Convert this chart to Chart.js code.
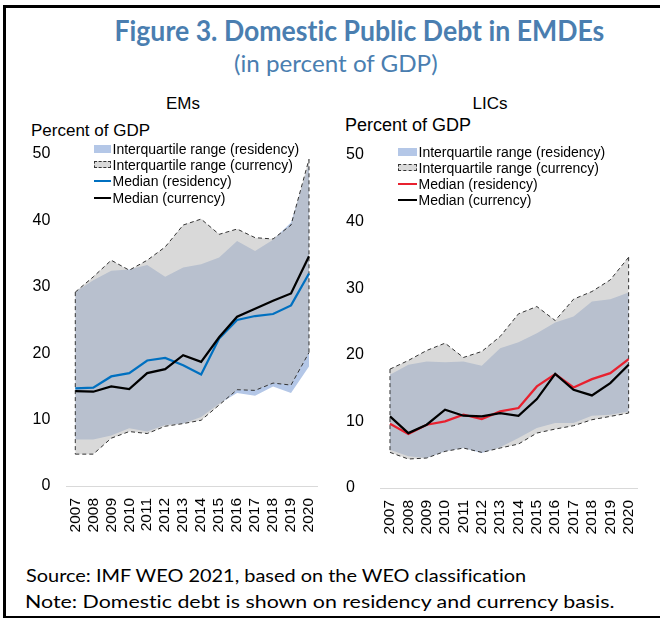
<!DOCTYPE html>
<html>
<head>
<meta charset="utf-8">
<script src="https://cdn.jsdelivr.net/npm/chart.js@4.4.1/dist/chart.umd.min.js"></script>
<style>
  html, body { margin:0; padding:0; background:#fff; }
  #wrap { position:relative; width:660px; height:618px; overflow:hidden; background:#fff; }
  #frame { position:absolute; left:3px; top:5px; width:700px; height:613px; box-sizing:border-box;
           border-left:3px solid #000; border-top:3px solid #000; border-bottom:2px solid #000; }
  .t { position:absolute; white-space:nowrap; line-height:1; font-variant-ligatures:none; }
  .ttl { font-family: Lato, "Open Sans", sans-serif; color:#4a7eb0; }
  .ax { font-family: "Liberation Sans", Arial, sans-serif; color:#000; }
  .foot { font-family: Lato, "Open Sans", sans-serif; color:#000; }
  canvas { position:absolute; }
  .leg { position:absolute; font-family:"Liberation Sans", Arial, sans-serif; font-size:14px; color:#000; }
  .row { position:absolute; left:0; height:16px; white-space:nowrap; }
  .row span.txt { position:absolute; top:0; line-height:16px; }
  .sw { position:absolute; box-sizing:border-box; }
</style>
</head>
<body>
<div id="wrap">
  <div id="frame"></div>
  <div class="t ttl" id="title" style="font-weight:700;font-size:28px;" data-cx="359.5" data-cy="30" data-w="490">Figure 3. Domestic Public Debt in EMDEs</div>
  <div class="t ttl" id="subtitle" style="font-size:23px;" data-cx="336" data-cy="63" data-w="204">(in percent of GDP)</div>
  <div class="t ax" style="font-size:17px;" data-cx="183" data-cy="103">EMs</div>
  <div class="t ax" style="font-size:17px;" data-cx="490" data-cy="103">LICs</div>
  <div class="t ax" style="font-size:17px;" data-lx="31" data-cy="130">Percent of GDP</div>
  <div class="t ax" style="font-size:18px;" data-lx="345" data-cy="125">Percent of GDP</div>
  <canvas id="c1" width="320" height="440" style="left:20px;top:120px;width:320px;height:440px;"></canvas>
  <canvas id="c2" width="320" height="440" style="left:340px;top:120px;width:320px;height:440px;"></canvas>
  <div class="leg" id="leg1"></div>
  <div class="leg" id="leg2"></div>
  <div class="t foot" style="font-size:18px;" data-lx="26" data-cy="575" data-w="500">Source: IMF WEO 2021, based on the WEO classification</div>
  <div class="t foot" style="font-size:18px;" data-lx="25" data-cy="601" data-w="590">Note: Domestic debt is shown on residency and currency basis.</div>
</div>
<script>
// ---------------- DATA ----------------
const years = ['2007','2008','2009','2010','2011','2012','2013','2014','2015','2016','2017','2018','2019','2020'];

// EMs
const emResUpper  = [29.2, 31.0, 32.4, 32.6, 33.3, 31.5, 32.9, 33.4, 34.4, 36.9, 35.4, 37.1, 39.7, 48.5];
const emResLower  = [7.0, 7.0, 7.6, 8.7, 8.2, 9.2, 9.4, 10.4, 12.4, 14.0, 13.6, 15.0, 14.0, 18.0];
const emCurUpper  = [29.2, 31.5, 34.0, 32.5, 34.0, 36.0, 39.3, 40.2, 37.9, 38.7, 37.4, 37.2, 39.3, 49.2];
const emCurLower  = [4.8, 4.8, 7.2, 8.2, 7.9, 9.0, 9.4, 9.9, 12.2, 14.5, 14.4, 15.5, 15.2, 20.1];
const emResMedian = [14.7, 14.8, 16.5, 17.0, 18.9, 19.3, 18.2, 16.8, 22.2, 25.0, 25.6, 25.9, 27.2, 32.0];
const emCurMedian = [14.3, 14.2, 15.0, 14.6, 17.0, 17.6, 19.7, 18.7, 22.4, 25.5, 26.7, 27.9, 29.0, 34.6];

// LICs
const licResUpper  = [17.0, 18.5, 19.0, 18.9, 19.0, 18.35, 21.0, 21.9, 23.25, 24.85, 25.75, 28.0, 28.35, 29.35];
const licResLower  = [5.75, 4.75, 4.5, 5.5, 6.0, 5.25, 6.1, 7.5, 9.0, 9.75, 9.75, 10.85, 11.0, 11.5];
const licCurUpper  = [17.85, 19.15, 20.65, 21.75, 19.6, 20.5, 22.75, 26.15, 27.25, 25.15, 28.35, 29.5, 31.25, 34.65];
const licCurLower  = [5.35, 4.35, 4.5, 5.5, 6.0, 5.35, 6.0, 6.6, 8.25, 8.85, 9.35, 10.25, 10.75, 11.25];
const licResMedian = [9.65, 8.1, 9.5, 10.0, 11.0, 10.35, 11.5, 12.0, 15.25, 17.1, 15.1, 16.35, 17.25, 19.35];
const licCurMedian = [10.75, 8.25, 9.5, 11.75, 10.85, 10.75, 11.25, 10.85, 13.35, 17.15, 14.75, 13.9, 15.75, 18.5];

const yTicks = [0, 10, 20, 30, 40, 50];
const legendLabels = ['Interquartile range (residency)', 'Interquartile range (currency)', 'Median (residency)', 'Median (currency)'];

// ---------------- STYLE ----------------
const FONT = '"Liberation Sans", Arial, sans-serif';
Chart.defaults.font.family = FONT;
Chart.defaults.color = '#000';

const BLUE_FILL = '#b4c7e7';
const GREY_FILL = 'rgba(187,187,187,0.56)';
const DASH_COL = '#333333';

const edgePlugin = {
  id: 'edges',
  beforeDatasetsDraw(chart) {
    const up = chart.getDatasetMeta(2).data, lo = chart.getDatasetMeta(3).data;
    const ctx = chart.ctx;
    ctx.save();
    ctx.setLineDash([4, 3]);
    ctx.strokeStyle = DASH_COL;
    ctx.lineWidth = 1;
    [0, up.length - 1].forEach(i => {
      ctx.beginPath();
      ctx.moveTo(up[i].x, up[i].y);
      ctx.lineTo(lo[i].x, lo[i].y);
      ctx.stroke();
    });
    ctx.restore();
  }
};

function makeChart(id, d, medColor, lay) {
  const base = { pointRadius: 0, pointHoverRadius: 0, tension: 0 };
  return new Chart(document.getElementById(id), {
    type: 'line',
    data: {
      labels: years,
      datasets: [
        Object.assign({}, base, { label: legendLabels[3], data: d.curMed, borderColor: '#000', borderWidth: 2.25, fill: false }),
        Object.assign({}, base, { label: legendLabels[2], data: d.resMed, borderColor: medColor, borderWidth: 2.25, fill: false }),
        Object.assign({}, base, { label: legendLabels[1], data: d.curUp, borderColor: DASH_COL, borderWidth: 1, borderDash: [4, 3], fill: '+1', backgroundColor: GREY_FILL }),
        Object.assign({}, base, { label: 'cl', data: d.curLo, borderColor: DASH_COL, borderWidth: 1, borderDash: [4, 3], fill: false }),
        Object.assign({}, base, { label: legendLabels[0], data: d.resUp, borderWidth: 0, borderColor: 'rgba(0,0,0,0)', fill: '+1', backgroundColor: BLUE_FILL }),
        Object.assign({}, base, { label: 'rl', data: d.resLo, borderWidth: 0, borderColor: 'rgba(0,0,0,0)', fill: false })
      ]
    },
    options: {
      responsive: false,
      animation: false,
      events: [],
      layout: { padding: lay.padding },
      plugins: {
        legend: { display: false },
        tooltip: { enabled: false },
        filler: { drawTime: 'beforeDatasetsDraw' }
      },
      scales: {
        x: {
          offset: true,
          grid: { display: false, drawTicks: false },
          border: { display: true, color: '#d9d9d9', width: 1 },
          ticks: { autoSkip: false, maxRotation: 90, minRotation: 90, padding: 12, color: '#000', font: { size: 15.5 } },
          afterFit(s) { s.height = lay.xH; }
        },
        y: {
          min: 0, max: 50,
          afterBuildTicks(s) { s.ticks = yTicks.map(v => ({ value: v })); },
          grid: { display: false, drawTicks: false },
          border: { display: false },
          ticks: { padding: lay.tickPad, crossAlign: lay.crossAlign, color: '#000', font: { size: 16 } },
          afterFit(s) { s.width = lay.yW; }
        }
      }
    },
    plugins: [edgePlugin]
  });
}

makeChart('c1', { resUp: emResUpper, resLo: emResLower, curUp: emCurUpper, curLo: emCurLower, resMed: emResMedian, curMed: emCurMedian },
  '#0070c0', { padding: { left: 0, right: 11.3, top: 34, bottom: 0 }, xH: 74, yW: 46.3, tickPad: 16, crossAlign: 'near' });
makeChart('c2', { resUp: licResUpper, resLo: licResLower, curUp: licCurUpper, curLo: licCurLower, resMed: licResMedian, curMed: licCurMedian },
  '#e8212f', { padding: { left: 6, right: 21.5, top: 35, bottom: 0 }, xH: 72, yW: 34.8, tickPad: 6, crossAlign: 'far' });

// ---------------- LEGENDS ----------------
function buildLegend(id, rowsY, swX, swW, textX, medColor) {
  const el = document.getElementById(id);
  el.style.left = '0px';
  el.style.top = '0px';
  legendLabels.forEach((lab, i) => {
    const row = document.createElement('div');
    row.className = 'row';
    row.style.top = (rowsY[i] - 8) + 'px';
    const sw = document.createElement('div');
    sw.className = 'sw';
    sw.style.left = swX + 'px';
    sw.style.width = swW + 'px';
    if (i === 0) { sw.style.top = '4px'; sw.style.height = '8px'; sw.style.background = BLUE_FILL; }
    else if (i === 1) { sw.style.top = '4.5px'; sw.style.height = '7px'; sw.style.background = '#d9d9d9'; sw.style.border = '1px dashed ' + DASH_COL; }
    else { sw.style.top = '7px'; sw.style.height = '2.25px'; sw.style.background = (i === 2 ? medColor : '#000'); }
    row.appendChild(sw);
    const tx = document.createElement('span');
    tx.className = 'txt';
    tx.style.left = textX + 'px';
    tx.textContent = lab;
    row.appendChild(tx);
    el.appendChild(row);
  });
}
buildLegend('leg1', [148.5, 164.8, 181.2, 197.6], 94, 17, 112.5, '#0070c0');
buildLegend('leg2', [151.5, 167.5, 183.5, 199.5], 398, 19, 418.5, '#e8212f');

// ---------------- TEXT PLACEMENT ----------------
function place() {
  document.querySelectorAll('.t').forEach(el => {
    el.style.transform = '';
    const w = el.offsetWidth, h = el.offsetHeight;
    let sx = 1;
    if (el.dataset.w) sx = parseFloat(el.dataset.w) / w;
    const cy = parseFloat(el.dataset.cy);
    el.style.top = (cy - h / 2) + 'px';
    if (el.dataset.cx) {
      el.style.left = (parseFloat(el.dataset.cx) - w / 2) + 'px';
      el.style.transformOrigin = '50% 50%';
    } else {
      el.style.left = parseFloat(el.dataset.lx) + 'px';
      el.style.transformOrigin = '0 50%';
    }
    if (sx !== 1) el.style.transform = 'scaleX(' + sx.toFixed(4) + ')';
  });
}
place();
if (document.fonts && document.fonts.ready) document.fonts.ready.then(place);
</script>
</body>
</html>
